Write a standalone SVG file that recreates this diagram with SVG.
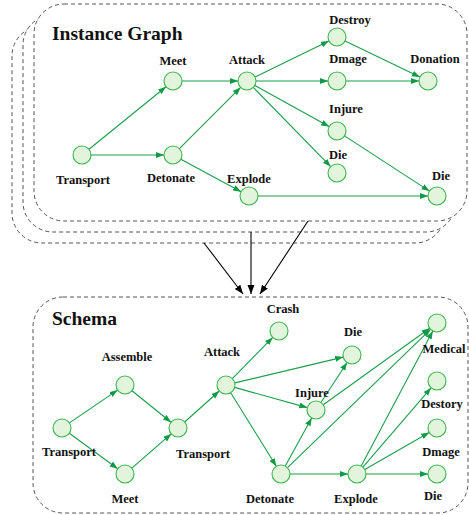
<svg xmlns="http://www.w3.org/2000/svg" width="469" height="515" viewBox="0 0 469 515">
<defs>
<marker id="ga" markerUnits="userSpaceOnUse" markerWidth="9" markerHeight="7" refX="8" refY="3" orient="auto"><path d="M0,0 L8,3 L0,6 z" fill="#0f9a45"/></marker>
<marker id="ba" markerUnits="userSpaceOnUse" markerWidth="10" markerHeight="8" refX="9" refY="3.5" orient="auto"><path d="M0,0 L9,3.5 L0,7 z" fill="#000"/></marker>
</defs>
<style>
.frame{fill:#fff;stroke:#555;stroke-width:1;stroke-dasharray:4,3}
.e{stroke:#1b9e4b;stroke-width:1.1;fill:none;marker-end:url(#ga)}
.b{stroke:#000;stroke-width:1.1;fill:none;marker-end:url(#ba)}
.n{fill:#e2f5dc;stroke:#3cb44b;stroke-width:1.1}
.t{font-family:"Liberation Serif","Times New Roman",serif;font-weight:bold;font-size:12.5px;fill:#111;text-anchor:middle}
.h{font-family:"Liberation Serif","Times New Roman",serif;font-weight:bold;font-size:19.5px;fill:#111}
</style>
<g id="frames">
<rect class="frame" x="12" y="26" width="433" height="217" rx="30"/>
<rect class="frame" x="23" y="15" width="433" height="217" rx="30"/>
<rect class="frame" x="34" y="4" width="433" height="217" rx="30"/>
<rect class="frame" x="33" y="297" width="435" height="216" rx="30"/>
<text class="h" x="52" y="40">Instance Graph</text>
<text class="h" x="52" y="325">Schema</text>
</g>
<g id="connectors">
<line class="b" x1="204" y1="243" x2="243" y2="294"/>
<line class="b" x1="251" y1="232" x2="251" y2="294"/>
<line class="b" x1="308" y1="221" x2="260" y2="294"/>
<line class="e" x1="89" y1="149.3" x2="166" y2="86.7"/>
<line class="e" x1="91" y1="155" x2="164" y2="155"/>
<line class="e" x1="182" y1="81" x2="238" y2="81"/>
<line class="e" x1="179.4" y1="148.6" x2="240.6" y2="87.4"/>
<line class="e" x1="180.9" y1="159.3" x2="241.1" y2="191.7"/>
<line class="e" x1="255.1" y1="77" x2="328.9" y2="41"/>
<line class="e" x1="256" y1="81" x2="328" y2="81"/>
<line class="e" x1="254.9" y1="85.4" x2="329.1" y2="126.6"/>
<line class="e" x1="253.3" y1="87.4" x2="330.7" y2="166.6"/>
<line class="e" x1="345.1" y1="40.9" x2="419.9" y2="77.1"/>
<line class="e" x1="346" y1="81" x2="419" y2="81"/>
<line class="e" x1="344.5" y1="135.9" x2="429.5" y2="191.1"/>
<line class="e" x1="258" y1="196" x2="428" y2="196"/>
<line class="e" x1="69.4" y1="422.9" x2="117.6" y2="390.1"/>
<line class="e" x1="69.3" y1="433.3" x2="117.7" y2="468.7"/>
<line class="e" x1="132" y1="390.7" x2="171" y2="422.3"/>
<line class="e" x1="131.8" y1="468.1" x2="171.2" y2="433.9"/>
<line class="e" x1="184.7" y1="422" x2="219.3" y2="391"/>
<line class="e" x1="232.3" y1="378.6" x2="272.7" y2="337.4"/>
<line class="e" x1="234.8" y1="382.9" x2="343.2" y2="357.1"/>
<line class="e" x1="234.7" y1="387.4" x2="307.3" y2="407.6"/>
<line class="e" x1="230.7" y1="392.7" x2="276.3" y2="466.3"/>
<line class="e" x1="320.9" y1="402.5" x2="347.1" y2="362.5"/>
<line class="e" x1="323.3" y1="404.7" x2="429.7" y2="328.3"/>
<line class="e" x1="285.3" y1="466.1" x2="311.7" y2="417.9"/>
<line class="e" x1="287.5" y1="467.7" x2="430.5" y2="329.3"/>
<line class="e" x1="290" y1="474" x2="348" y2="474"/>
<line class="e" x1="361.2" y1="466" x2="432.8" y2="331"/>
<line class="e" x1="362.9" y1="467.2" x2="431.1" y2="387.8"/>
<line class="e" x1="364.8" y1="469.5" x2="429.2" y2="432.5"/>
<line class="e" x1="366" y1="474" x2="428" y2="474"/>
</g>
<g id="i-transport"><circle class="n" cx="82" cy="155" r="9"/><text class="t" x="83" y="184">Transport</text></g>
<g id="i-meet"><circle class="n" cx="173" cy="81" r="9"/><text class="t" x="173" y="65">Meet</text></g>
<g id="i-detonate"><circle class="n" cx="173" cy="155" r="9"/><text class="t" x="171" y="182">Detonate</text></g>
<g id="i-attack"><circle class="n" cx="247" cy="81" r="9"/><text class="t" x="247" y="64">Attack</text></g>
<g id="i-explode"><circle class="n" cx="249" cy="196" r="9"/><text class="t" x="249" y="183">Explode</text></g>
<g id="i-destroy"><circle class="n" cx="337" cy="37" r="9"/><text class="t" x="350" y="24">Destroy</text></g>
<g id="i-dmage"><circle class="n" cx="337" cy="81" r="9"/><text class="t" x="348" y="63">Dmage</text></g>
<g id="i-injure"><circle class="n" cx="337" cy="131" r="9"/><text class="t" x="346" y="113">Injure</text></g>
<g id="i-die1"><circle class="n" cx="337" cy="173" r="9"/><text class="t" x="338" y="159">Die</text></g>
<g id="i-donation"><circle class="n" cx="428" cy="81" r="9"/><text class="t" x="435" y="63">Donation</text></g>
<g id="i-die2"><circle class="n" cx="437" cy="196" r="9"/><text class="t" x="441" y="180">Die</text></g>
<g id="s-transport1"><circle class="n" cx="62" cy="428" r="9"/><text class="t" x="69" y="456">Transport</text></g>
<g id="s-assemble"><circle class="n" cx="125" cy="385" r="9"/><text class="t" x="127" y="361">Assemble</text></g>
<g id="s-meet"><circle class="n" cx="125" cy="474" r="9"/><text class="t" x="125" y="503">Meet</text></g>
<g id="s-transport2"><circle class="n" cx="178" cy="428" r="9"/><text class="t" x="203" y="458">Transport</text></g>
<g id="s-attack"><circle class="n" cx="226" cy="385" r="9"/><text class="t" x="222" y="356">Attack</text></g>
<g id="s-crash"><circle class="n" cx="279" cy="331" r="9"/><text class="t" x="283" y="313">Crash</text></g>
<g id="s-die-top"><circle class="n" cx="352" cy="355" r="9"/><text class="t" x="353" y="336">Die</text></g>
<g id="s-injure"><circle class="n" cx="316" cy="410" r="9"/><text class="t" x="312" y="397">Injure</text></g>
<g id="s-detonate"><circle class="n" cx="281" cy="474" r="9"/><text class="t" x="270" y="503">Detonate</text></g>
<g id="s-explode"><circle class="n" cx="357" cy="474" r="9"/><text class="t" x="356" y="503">Explode</text></g>
<g id="s-medical"><circle class="n" cx="437" cy="323" r="9"/><text class="t" x="444" y="353">Medical</text></g>
<g id="s-destory"><circle class="n" cx="437" cy="381" r="9"/><text class="t" x="442" y="408">Destory</text></g>
<g id="s-dmage"><circle class="n" cx="437" cy="428" r="9"/><text class="t" x="441" y="456">Dmage</text></g>
<g id="s-die-bottom"><circle class="n" cx="437" cy="474" r="9"/><text class="t" x="433" y="500">Die</text></g>
</svg>
